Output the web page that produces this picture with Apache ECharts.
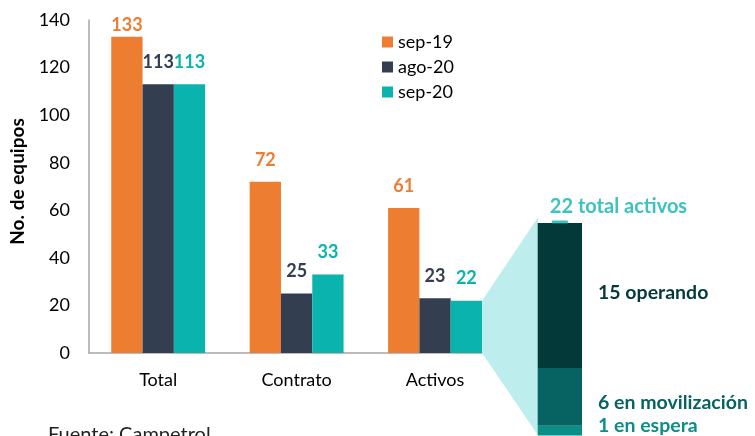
<!DOCTYPE html>
<html>
<head>
<meta charset="utf-8">
<script src="https://cdn.jsdelivr.net/npm/echarts@6/dist/echarts.min.js"></script>
<style>html,body{margin:0;padding:0;background:#fff;}#c{width:755px;height:436px;}</style>
</head>
<body>
<div id="c"></div>
<script>
const categories = ['Total', 'Contrato', 'Activos'];
const seriesNames = ['sep-19', 'ago-20', 'sep-20'];
const sep19 = [133, 72, 61];
const ago20 = [113, 25, 23];
const sep20 = [113, 33, 22];
const yTicks = [0, 20, 40, 60, 80, 100, 120, 140];
const breakdownNames = ['1 en espera', '6 en movilización', '15 operando'];
const breakdownValues = [1, 6, 15];
const totalActivos = 22;
const totalLabel = '22 total activos';
const source = 'Fuente: Campetrol';

const FONT = 'Lato';
const colors = ['#ed7d31', '#333f50', '#0bb3af'];
const stackColors = ['#0a8f88', '#066361', '#04393a'];
const stackLabelColors = ['#0a8f88', '#066361', '#04393a'];

const chart = echarts.init(document.getElementById('c'), null, {renderer: 'canvas'});
const values = [sep19, ago20, sep20];

const barSeries = seriesNames.map((n, i) => ({
  name: n,
  type: 'bar',
  xAxisIndex: 0, yAxisIndex: 0,
  barWidth: 31.3,
  barGap: '0%',
  data: values[i].map((v) => ({
    value: v,
    label: (v === 133) ? {distance: 2} : undefined
  })),
  itemStyle: {color: colors[i]},
  label: {
    show: true, position: 'top', distance: 13,
    fontFamily: FONT, fontSize: 18, fontWeight: 'bold', color: colors[i]
  },
  z: 5
}));

const stackSeries = breakdownNames.map((n, i) => ({
  name: n,
  type: 'bar',
  xAxisIndex: 1, yAxisIndex: 1,
  stack: 'act',
  barWidth: '100%',
  data: [breakdownValues[i]],
  itemStyle: {color: stackColors[i]},
  label: {
    show: true, position: 'right', distance: 16,
    formatter: n,
    fontFamily: FONT, fontSize: 19.5, fontWeight: 'bold', color: stackLabelColors[i],
    offset: i === 0 ? [0, -5] : (i === 1 ? [0, 6] : [0, -3])
  },
  z: 5
}));

const option = {
  animation: false,
  backgroundColor: '#ffffff',
  textStyle: {fontFamily: FONT},
  legend: {
    data: seriesNames,
    orient: 'vertical',
    left: 377, top: 28,
    itemWidth: 11, itemHeight: 11, itemGap: 7,
    icon: 'rect',
    textStyle: {fontFamily: FONT, fontSize: 18, color: '#000'}
  },
  grid: [
    {left: 82.75, width: 421.5, top: 20, bottom: 83, containLabel: false},
    {left: 537.7, width: 44.3, top: 223, bottom: 0.5, containLabel: false}
  ],
  xAxis: [
    {
      type: 'category', gridIndex: 0, data: categories,
      axisLine: {lineStyle: {color: '#a6a6a6', width: 1.5}},
      axisTick: {show: false},
      axisLabel: {fontFamily: FONT, fontSize: 18, color: '#000', margin: 18}
    },
    {
      type: 'category', gridIndex: 1, data: ['Activos sep-20'], show: false
    }
  ],
  yAxis: [
    {
      type: 'value', gridIndex: 0, min: 0, max: 140, interval: 20,
      axisLine: {show: true, lineStyle: {color: '#a6a6a6', width: 1.5}},
      axisTick: {show: false},
      splitLine: {show: false},
      axisLabel: {fontFamily: FONT, fontSize: 18, color: '#000', margin: 19,
        formatter: (v) => yTicks.includes(v) ? String(v) : ''},
      name: 'No. de equipos',
      nameLocation: 'middle',
      nameGap: 62,
      nameTextStyle: {fontFamily: FONT, fontSize: 19, fontWeight: 'bold', color: '#000', padding: [0, 0, 0, 10]}
    },
    {
      type: 'value', gridIndex: 1, min: 0, max: totalActivos, show: false
    }
  ],
  series: barSeries.concat(stackSeries).concat([{
    name: 'total',
    type: 'scatter',
    xAxisIndex: 1, yAxisIndex: 1,
    data: [[0, totalActivos]],
    symbol: 'rect',
    symbolSize: [16, 3],
    symbolOffset: [0, -1],
    itemStyle: {color: '#0bb3af'},
    label: {
      show: true, position: 'top', distance: 4, align: 'left', offset: [-10, 0],
      formatter: totalLabel,
      fontFamily: FONT, fontSize: 20, fontWeight: 'bold', color: '#0bb3af'
    },
    z: 10
  }])
};
chart.setOption(option);

// connector trapezoid computed from the library's scales
const topBar = chart.convertToPixel({xAxisIndex: 0, yAxisIndex: 0}, ['Activos', sep20[2]]);
const baseBar = chart.convertToPixel({xAxisIndex: 0, yAxisIndex: 0}, ['Activos', 0]);
const barRight = topBar[0] + 1.5 * 31.3;
const stTop = chart.convertToPixel({xAxisIndex: 1, yAxisIndex: 1}, [0, totalActivos]);
const stBot = chart.convertToPixel({xAxisIndex: 1, yAxisIndex: 1}, [0, 0]);
const stLeft = stTop[0] - 44.3 / 2;

chart.setOption({
  graphic: [
    {
      type: 'polygon', z: 3,
      shape: {points: [[barRight, topBar[1]], [stLeft + 0.5, stTop[1] - 6], [stLeft + 0.5, stBot[1]], [barRight, baseBar[1]]]},
      style: {fill: '#bdeeed'}
    },
    {
      type: 'text', left: 48, top: 425, z: 10,
      style: {text: source, fontFamily: FONT, fontSize: 20, fill: '#222'}
    }
  ]
});
</script>
</body>
</html>
